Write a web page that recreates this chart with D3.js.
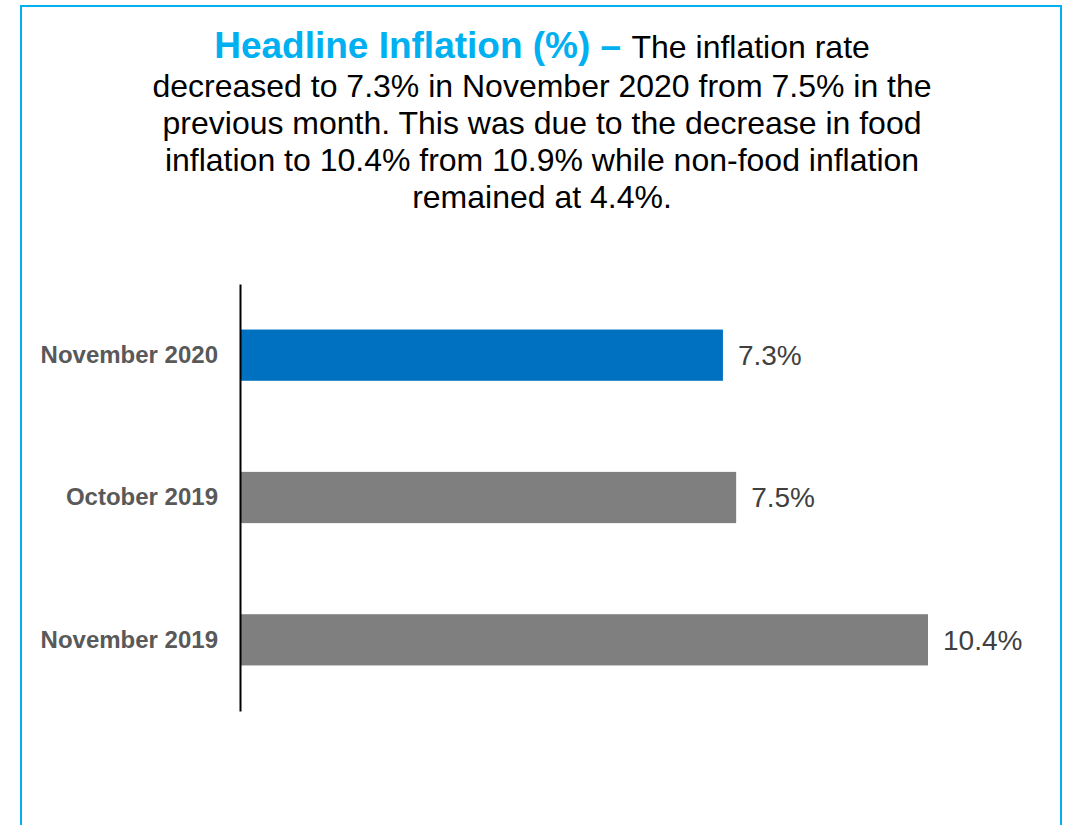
<!DOCTYPE html>
<html>
<head>
<meta charset="utf-8">
<script src="https://cdn.jsdelivr.net/npm/d3@7"></script>
<style>
  html, body { margin: 0; padding: 0; background: #fff; }
  svg { display: block; font-family: Arial, "Liberation Sans", sans-serif; }
</style>
</head>
<body>
<svg id="chart" width="1066" height="825"></svg>
<script>
// Headline inflation, top to bottom as drawn
const categories = ["November 2020", "October 2019", "November 2019"];
const values = [7.3, 7.5, 10.4];
const barColors = ["#0070c0", "#7f7f7f", "#7f7f7f"];

const titleBold = "Headline Inflation (%) \u2013";
const titleLines = [
  "The inflation rate",
  "decreased to 7.3% in November 2020 from 7.5% in the",
  "previous month. This was due to the decrease in food",
  "inflation to 10.4% from 10.9% while non-food inflation",
  "remained at 4.4%."
];

const svg = d3.select("#chart");

// Light-blue frame around the panel (open at the bottom edge of the page)
svg.append("path")
  .attr("d", "M21,830 L21,6 L1061,6 L1061,830")
  .attr("fill", "none")
  .attr("stroke", "#00b0f0")
  .attr("stroke-width", 2);

// Title block
const title = svg.append("g").attr("text-anchor", "middle");
const centerX = 542;
const baselines = [58, 97, 134, 171, 208];

const first = title.append("text")
  .attr("x", centerX)
  .attr("y", baselines[0]);
first.append("tspan")
  .attr("font-weight", "bold")
  .attr("font-size", 37)
  .attr("fill", "#00b0f0")
  .text(titleBold + " ");
first.append("tspan")
  .attr("font-size", 32)
  .attr("fill", "#000")
  .text(titleLines[0]);

titleLines.slice(1).forEach((line, i) => {
  title.append("text")
    .attr("x", centerX)
    .attr("y", baselines[i + 1])
    .attr("font-size", 32)
    .attr("fill", "#000")
    .text(line);
});

// Scales
const x = d3.scaleLinear()
  .domain([0, d3.max(values)])
  .range([240, 928]);

const y = d3.scaleBand()
  .domain(categories)
  .range([284, 711])
  .paddingInner(0.64)
  .paddingOuter(0.32);

// Bars
svg.append("g")
  .selectAll("rect")
  .data(values)
  .join("rect")
  .attr("x", x(0))
  .attr("y", (d, i) => y(categories[i]))
  .attr("width", d => x(d) - x(0))
  .attr("height", y.bandwidth())
  .attr("fill", (d, i) => barColors[i]);

// Value labels
svg.append("g")
  .selectAll("text")
  .data(values)
  .join("text")
  .attr("x", d => x(d) + 15)
  .attr("y", (d, i) => y(categories[i]) + y.bandwidth() / 2)
  .attr("dy", "0.35em")
  .attr("font-size", 28)
  .attr("fill", "#404040")
  .text(d => d.toFixed(1) + "%");

// Category axis
const axis = svg.append("g")
  .attr("transform", `translate(${x(0)},0)`)
  .call(d3.axisLeft(y).tickSize(0).tickSizeOuter(0).tickPadding(22));

axis.select(".domain")
  .attr("stroke", "#000")
  .attr("stroke-width", 2);

axis.selectAll(".tick text")
  .attr("font-family", "Arial, 'Liberation Sans', sans-serif")
  .attr("font-size", 24)
  .attr("font-weight", "bold")
  .attr("fill", "#595959");
</script>
</body>
</html>
